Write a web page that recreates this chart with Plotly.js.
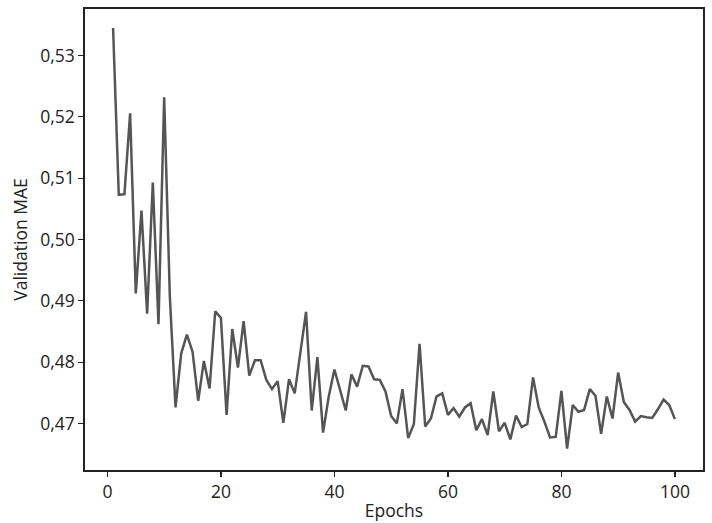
<!DOCTYPE html>
<html>
<head>
<meta charset="utf-8">
<script src="https://cdn.plot.ly/plotly-3.0.1.min.js"></script>
<style>
  html, body { margin: 0; padding: 0; background: #fff; }
  #grafico { width: 712px; height: 523px; }
</style>
</head>
<body>
<div id="grafico"></div>
<script>
// validation MAE per epoch
const epochs = Array.from({ length: 100 }, (_, i) => i + 1);

const maeValidacion = [
    0.5345, 0.5073, 0.5074, 0.5206, 0.4912, 0.5047, 0.4879, 0.5093, 0.4862, 0.5232,
    0.4907, 0.4726, 0.4814, 0.4845, 0.4817, 0.4737, 0.4802, 0.4757, 0.4883, 0.4872,
    0.4714, 0.4854, 0.4791, 0.4867, 0.4778, 0.4803, 0.4803, 0.4771, 0.4756, 0.4769,
    0.4701, 0.4772, 0.4749, 0.4820, 0.4882, 0.4721, 0.4808, 0.4685, 0.4744, 0.4788,
    0.4754, 0.4721, 0.4780, 0.4760, 0.4794, 0.4793, 0.4772, 0.4771, 0.4752, 0.4712,
    0.4700, 0.4756, 0.4676, 0.4699, 0.4830, 0.4695, 0.4708, 0.4744, 0.4749, 0.4714,
    0.4725, 0.4711, 0.4726, 0.4733, 0.4689, 0.4707, 0.4681, 0.4752, 0.4687, 0.4701,
    0.4674, 0.4713, 0.4694, 0.4699, 0.4775, 0.4726, 0.4703, 0.4677, 0.4678, 0.4753,
    0.4659, 0.4730, 0.4719, 0.4722, 0.4756, 0.4745, 0.4683, 0.4744, 0.4708, 0.4783,
    0.4735, 0.4722, 0.4703, 0.4712, 0.4710, 0.4709, 0.4723, 0.4739, 0.4730, 0.4707
];

const ticksX = [0, 20, 40, 60, 80, 100];
const ticksY = [0.47, 0.48, 0.49, 0.50, 0.51, 0.52, 0.53];

const fuente = { family: 'Open Sans, Noto Sans, sans-serif', size: 17.5, color: '#222' };

const data = [{
    x: epochs,
    y: maeValidacion,
    type: 'scatter',
    mode: 'lines',
    line: { color: '#555555', width: 2.5 },
    hoverinfo: 'skip'
}];

const ejeComun = {
    showline: true,
    mirror: true,
    linecolor: '#222',
    linewidth: 1.6,
    ticks: 'outside',
    ticklen: 5,
    tickwidth: 1.2,
    tickcolor: '#222',
    showgrid: false,
    zeroline: false,
    tickfont: fuente
};

const layout = {
    width: 712,
    height: 523,
    margin: { l: 85, r: 9, t: 9, b: 53 },
    paper_bgcolor: '#fff',
    plot_bgcolor: '#fff',
    separators: ',.',
    showlegend: false,
    xaxis: Object.assign({}, ejeComun, {
        range: [-3.95, 104.95],
        tickvals: ticksX,
        title: { text: 'Epochs', font: fuente, standoff: 3 }
    }),
    yaxis: Object.assign({}, ejeComun, {
        range: [0.4624, 0.5376],
        tickvals: ticksY,
        tickformat: '.2f',
        title: { text: 'Validation MAE', font: fuente, standoff: 8 }
    })
};

Plotly.newPlot('grafico', data, layout, { staticPlot: true, displayModeBar: false });
</script>
</body>
</html>
